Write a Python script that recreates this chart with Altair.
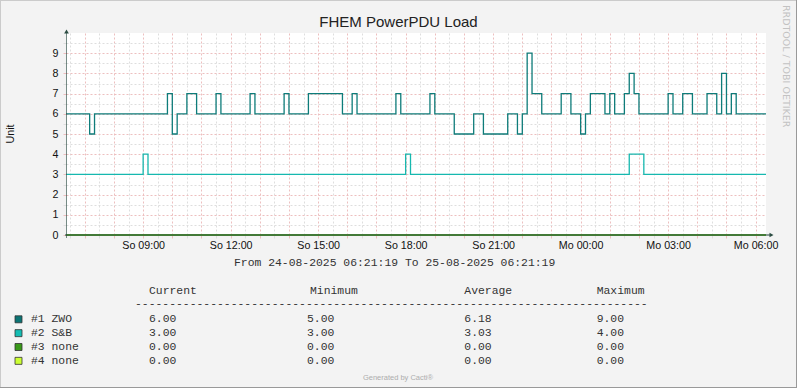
import altair as alt
import pandas as pd

# ---------------- data ----------------
START = "2025-08-24T06:21:19"
END = "2025-08-25T06:21:19"

zwo_times = [
    "2025-08-24T06:21:19", "2025-08-24T07:10", "2025-08-24T07:20", "2025-08-24T09:50",
    "2025-08-24T10:00", "2025-08-24T10:10", "2025-08-24T10:30", "2025-08-24T10:50",
    "2025-08-24T11:30", "2025-08-24T11:40", "2025-08-24T12:40", "2025-08-24T12:50",
    "2025-08-24T13:50", "2025-08-24T14:00", "2025-08-24T14:40", "2025-08-24T15:50",
    "2025-08-24T16:10", "2025-08-24T16:20", "2025-08-24T17:40", "2025-08-24T17:50",
    "2025-08-24T18:50", "2025-08-24T19:00", "2025-08-24T19:40", "2025-08-24T20:20",
    "2025-08-24T20:40", "2025-08-24T21:30", "2025-08-24T21:50", "2025-08-24T22:00",
    "2025-08-24T22:10", "2025-08-24T22:20", "2025-08-24T22:40", "2025-08-24T23:20",
    "2025-08-24T23:40", "2025-08-25T00:00", "2025-08-25T00:10", "2025-08-25T00:20",
    "2025-08-25T00:50", "2025-08-25T01:00", "2025-08-25T01:10", "2025-08-25T01:30",
    "2025-08-25T01:40", "2025-08-25T01:50", "2025-08-25T02:00", "2025-08-25T03:00",
    "2025-08-25T03:10", "2025-08-25T03:30", "2025-08-25T03:50", "2025-08-25T04:20",
    "2025-08-25T04:40", "2025-08-25T04:50", "2025-08-25T05:00", "2025-08-25T05:10",
    "2025-08-25T05:20", "2025-08-25T06:21:19",
]
zwo_values = [6, 5, 6, 7, 5, 6, 7, 6, 7, 6, 7, 6, 7, 6, 7, 6, 7, 6, 7, 6, 7, 6, 5, 6, 5, 6,
              5, 6, 9, 7, 6, 7, 6, 5, 6, 7, 6, 7, 6, 7, 8, 7, 6, 7, 6, 7, 6, 7, 6, 8, 6, 7,
              6, 6]

sb_times = ["2025-08-24T06:21:19", "2025-08-24T09:00", "2025-08-24T09:10", "2025-08-24T18:00",
            "2025-08-24T18:10", "2025-08-25T01:40", "2025-08-25T02:10", "2025-08-25T06:21:19"]
sb_values = [3, 4, 3, 4, 3, 4, 3, 3]

none_times = [START, END]
none3_values = [0, 0]
none4_values = [0, 0]

legend_names = ["#1 ZWO", "#2 S&B", "#3 none", "#4 none"]
legend_colors = ["#0B7474", "#14BDB3", "#3A991A", "#CCFF33"]
line_colors = ["#0E7C7A", "#16B8AF", "#3A991A", "#B8E83A"]
stat_headers = ["Current", "Minimum", "Average", "Maximum"]
stat_current = ["6.00", "3.00", "0.00", "0.00"]
stat_minimum = ["5.00", "3.00", "0.00", "0.00"]
stat_average = ["6.18", "3.03", "0.00", "0.00"]
stat_maximum = ["9.00", "4.00", "0.00", "0.00"]

title_text = "FHEM PowerPDU Load"
y_title = "Unit"
range_text = "From 24-08-2025 06:21:19 To 25-08-2025 06:21:19"
footer_text = "Generated by Cacti®"
side_text = "RRDTOOL / TOBI OETIKER"

# ---------------- layout ----------------
W, H = 700, 202
PAD_L, PAD_T, PAD_R, PAD_B = 66, 33, 31, 153
SANS = "Liberation Sans"
MONO = "Liberation Mono"
AXIS_COL = "#2C4D43"
MAJ = "#EDBFBF"
MIN = "#DEDEDE"

series = []
for name, times, vals in [("#1 ZWO", zwo_times, zwo_values), ("#2 S&B", sb_times, sb_values),
                          ("#3 none", none_times, none3_values), ("#4 none", none_times, none4_values)]:
    for t, v in zip(times, vals):
        series.append({"series": name, "t": t, "v": v})
df = pd.DataFrame(series)

def dt(day, h, m=0, s=0):
    return alt.DateTime(year=2025, month=8, date=day, hours=h, minutes=m, seconds=s)

x_scale = alt.Scale(domain=[dt(24, 6, 21, 19), dt(25, 6, 21, 19)], nice=False)
y_scale = alt.Scale(domain=[0, 10], nice=False, zero=False)

hour_vals = []
half_vals = []
for k in range(24):
    hh = 6 + k
    half_vals.append(dt(24 + hh // 24, hh % 24, 30))
    hh2 = 7 + k
    hour_vals.append(dt(24 + hh2 // 24, hh2 % 24, 0))

base = alt.Chart(df[df.series == "#1 ZWO"])

minor_grid = base.mark_line(opacity=0).encode(
    x=alt.X("t:T", scale=x_scale, axis=alt.Axis(
        orient="bottom", values=half_vals, labels=False, domain=False, title=None,
        grid=True, gridColor=MIN, gridDash=[2, 2], gridWidth=1,
        ticks=True, tickColor=MIN, tickSize=3)),
    y=alt.Y("v:Q", scale=y_scale, axis=alt.Axis(
        orient="left", values=[i + 0.5 for i in range(10)], labels=False, domain=False,
        title=None, grid=True, gridColor=MIN, gridDash=[2, 2], gridWidth=1,
        ticks=True, tickColor=MIN, tickSize=3)),
)

major_grid = base.mark_line(opacity=0).encode(
    x=alt.X("t:T", scale=x_scale, axis=alt.Axis(
        orient="bottom", values=hour_vals, domain=False, title=None,
        grid=True, gridColor=MAJ, gridDash=[2, 2], gridWidth=1,
        ticks=True, tickColor=MAJ, tickSize=3,
        labelExpr="hours(datum.value) % 3 == 0 ? (day(datum.value) == 0 ? 'So ' : 'Mo ') + timeFormat(datum.value, '%H:%M') : ''",
        labelFont=SANS, labelFontSize=10.7, labelColor="#111111", labelPadding=2,
        labelOverlap=False, labelFlush=False)),
    y=alt.Y("v:Q", scale=y_scale, axis=alt.Axis(
        orient="left", values=list(range(10)), domain=False, title=None,
        grid=True, gridColor=MAJ, gridDash=[2, 2], gridWidth=1,
        ticks=True, tickColor=MAJ, tickSize=3,
        labelFont=SANS, labelFontSize=10.7, labelColor="#111111", labelPadding=5)),
)

lines = alt.layer(*[
    alt.Chart(df[df.series == n]).mark_line(interpolate="step-after", strokeWidth=1.3, color=c).encode(
        x=alt.X("t:T", scale=x_scale, axis=None),
        y=alt.Y("v:Q", scale=y_scale, axis=None))
    for n, c in zip(reversed(legend_names), reversed(line_colors))
])

anchor = pd.DataFrame({"k": [0]})
A = alt.Chart(anchor)

# axis lines and arrows
x_axis_line = A.mark_rule(color=AXIS_COL, strokeWidth=1.3, opacity=0.7).encode(
    x=alt.value(-1), x2=alt.value(W + 4), y=alt.value(H))
y_axis_line = A.mark_rule(color=AXIS_COL, strokeWidth=1, opacity=0.65).encode(
    x=alt.value(0.5), y=alt.value(H + 3), y2=alt.value(-1))
x_arrow = A.mark_point(shape="triangle-right", filled=True, color=AXIS_COL, size=22, opacity=1).encode(
    x=alt.value(W + 5.5), y=alt.value(H))
y_arrow = A.mark_point(shape="triangle-up", filled=True, color=AXIS_COL, size=22, opacity=1).encode(
    x=alt.value(0.5), y=alt.value(-1.5))

# frame
frame = alt.layer(
    A.mark_rule(color="#CBCBCB").encode(x=alt.value(-PAD_L), x2=alt.value(W + PAD_R), y=alt.value(-PAD_T + 0.5)),
    A.mark_rule(color="#CBCBCB").encode(x=alt.value(-PAD_L + 0.5), y=alt.value(-PAD_T), y2=alt.value(H + PAD_B)),
    A.mark_rule(color="#999999").encode(x=alt.value(-PAD_L), x2=alt.value(W + PAD_R), y=alt.value(H + PAD_B - 0.5)),
    A.mark_rule(color="#999999").encode(x=alt.value(W + PAD_R - 0.5), y=alt.value(-PAD_T), y2=alt.value(H + PAD_B)),
)

# texts
title = A.mark_text(text=title_text, font=SANS, fontSize=15, color="#222222",
                    align="center", baseline="middle").encode(
    x=alt.value(398.5 - PAD_L), y=alt.value(22 - PAD_T))
ytitle = A.mark_text(text=y_title, font=SANS, fontSize=10.7, color="#111111", angle=270,
                     align="center", baseline="middle").encode(
    x=alt.value(10.5 - PAD_L), y=alt.value(134 - PAD_T))
range_lbl = A.mark_text(text=range_text, font=MONO, fontSize=11.4, color="#333333",
                        align="left", baseline="middle").encode(
    x=alt.value(234 - PAD_L), y=alt.value(263 - PAD_T))
footer = A.mark_text(text=footer_text, font=SANS, fontSize=7.5, color="#ADADAD",
                     align="center", baseline="middle").encode(
    x=alt.value(398 - PAD_L), y=alt.value(377.5 - PAD_T))
side = A.mark_text(text=side_text, font="DejaVu Sans", fontSize=9.5, color="#C2C2C2", angle=90,
                   align="left", baseline="middle").encode(
    x=alt.value(786 - PAD_L), y=alt.value(5 - PAD_T))

leg = pd.DataFrame({
    "name": legend_names, "color": legend_colors, "row": list(range(4)),
    "cur": stat_current, "min": stat_minimum, "avg": stat_average, "max": stat_maximum,
})
LEG = alt.Chart(leg).transform_calculate(ypos=f"{319.3 - PAD_T} + 13.85 * datum.row")
y_enc = alt.Y("ypos:Q", scale=None)

squares = LEG.mark_square(size=49, stroke="#333333", strokeWidth=0.8, opacity=1).encode(
    x=alt.value(18.5 - PAD_L), y=y_enc,
    fill=alt.Color("color:N", scale=None))
names = LEG.mark_text(font=MONO, fontSize=11.4, color="#333333", align="left", baseline="middle").encode(
    x=alt.value(31 - PAD_L), y=y_enc, text="name:N")

header_x = [149, 310, 464.3, 596.7]
value_x = [149, 307, 464.3, 596.7]
value_cols = ["cur", "min", "avg", "max"]
col_layers = []
for hdr, hx, vx, col in zip(stat_headers, header_x, value_x, value_cols):
    col_layers.append(A.mark_text(text=hdr, font=MONO, fontSize=11.4, color="#333333",
                                  align="left", baseline="middle").encode(
        x=alt.value(hx - PAD_L), y=alt.value(291 - PAD_T)))
    col_layers.append(LEG.mark_text(font=MONO, fontSize=11.4, color="#333333",
                                    align="left", baseline="middle").encode(
        x=alt.value(vx - PAD_L), y=y_enc, text=f"{col}:N"))
dashes = A.mark_text(text="-" * 75, font=MONO, fontSize=11.4, color="#333333",
                     align="left", baseline="middle").encode(
    x=alt.value(135 - PAD_L), y=alt.value(303.5 - PAD_T))

chart = alt.layer(
    minor_grid, major_grid, lines, x_axis_line, y_axis_line, x_arrow, y_arrow,
    frame, title, ytitle, range_lbl, footer, side, squares, names, dashes, *col_layers,
).resolve_axis(x="independent", y="independent").properties(
    width=W, height=H,
    autosize=alt.AutoSizeParams(type="none"),
    padding={"left": PAD_L, "top": PAD_T, "right": PAD_R, "bottom": PAD_B},
    background="#F3F3F3",
).configure_view(fill="#FFFFFF", stroke=None)

chart.save("out.html", embed_options={"renderer": "svg", "actions": False})
